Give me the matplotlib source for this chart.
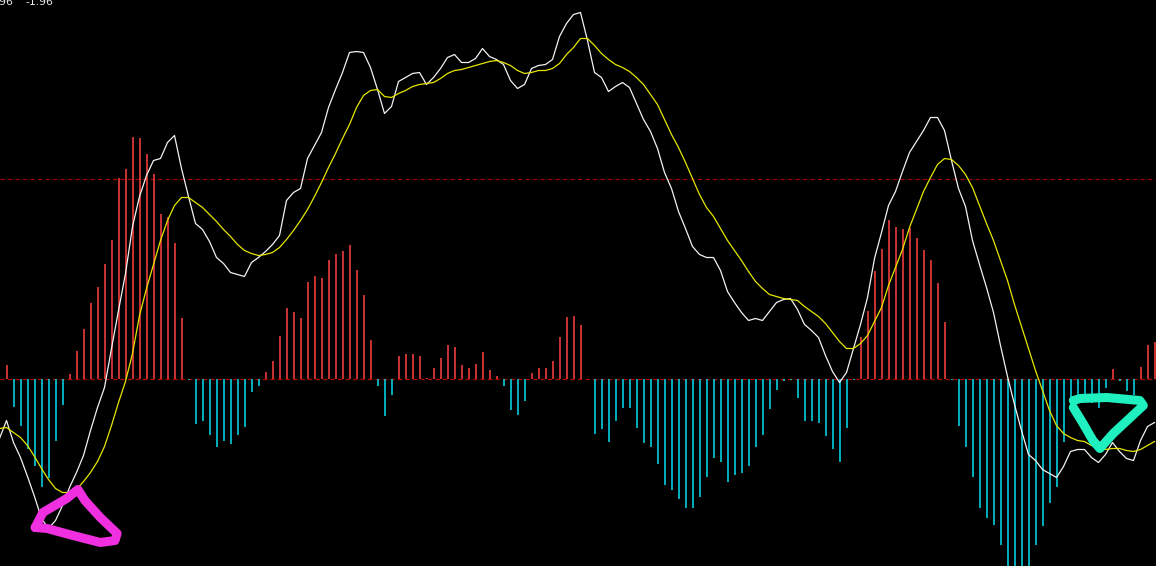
import numpy as np
import matplotlib
matplotlib.use('Agg')
import matplotlib.pyplot as plt

# MACD values, one per bar
macd = [0.14, -0.28, -0.47, -0.70, -0.87, -1.08, -0.99, -0.62, -0.26, 0.05,
        0.28, 0.50, 0.76, 0.92, 1.15, 1.39, 2.01, 2.10, 2.42, 2.41,
        2.24, 2.05, 1.65, 1.62, 1.36, 0.61, -0.01, -0.45, -0.42, -0.56,
        -0.68, -0.62, -0.65, -0.56, -0.48, -0.13, -0.07, 0.07, 0.18, 0.43,
        0.71, 0.67, 0.61, 0.97, 1.03, 1.01, 1.19, 1.25, 1.28, 1.34,
        1.09, 0.84, 0.39, -0.07, -0.37, -0.16, 0.23, 0.25, 0.25, 0.23,
        0.01, 0.11, 0.21, 0.34, 0.32, 0.14, 0.11, 0.15, 0.27, 0.09,
        0.03, -0.07, -0.31, -0.36, -0.22, 0.06, 0.11, 0.11, 0.18, 0.42,
        0.62, 0.63, 0.54, 0.00, -0.55, -0.50, -0.63, -0.42, -0.29, -0.29,
        -0.49, -0.64, -0.68, -0.85, -1.06, -1.11, -1.20, -1.29, -1.29, -1.18,
        -0.98, -0.79, -0.83, -1.03, -0.96, -0.94, -0.87, -0.68, -0.56, -0.30,
        -0.11, -0.02, -0.01, -0.19, -0.42, -0.42, -0.44, -0.57, -0.70, -0.83,
        -0.49, -0.01, 0.42, 0.68, 1.08, 1.30, 1.59, 1.52, 1.50, 1.51,
        1.41, 1.29, 1.19, 0.96, 0.57, -0.01, -0.47, -0.68, -0.98, -1.29,
        -1.39, -1.46, -1.66, -1.92, -2.05, -2.05, -1.92, -1.66, -1.47, -1.24,
        -1.08, -0.63, -0.28, -0.22, -0.20, -0.24, -0.29, -0.09, 0.10, -0.02,
        -0.12, -0.16, 0.12, 0.34, 0.37]

# DIF (white) and DEA (yellow), starting one bar before the first histogram bar
dif = [-0.60, -0.42, -0.64, -0.79, -0.98, -1.18, -1.40, -1.50, -1.42, -1.27,
       -1.09, -0.94, -0.77, -0.52, -0.29, -0.09, 0.30, 0.68, 1.05, 1.52,
       1.82, 2.03, 2.18, 2.20, 2.36, 2.43, 2.10, 1.82, 1.55, 1.49,
       1.37, 1.21, 1.15, 1.06, 1.04, 1.02, 1.16, 1.21, 1.27, 1.34,
       1.43, 1.78, 1.86, 1.90, 2.20, 2.33, 2.46, 2.71, 2.89, 3.06,
       3.26, 3.27, 3.26, 3.11, 2.89, 2.65, 2.72, 2.97, 3.01, 3.05,
       3.06, 2.94, 3.01, 3.10, 3.21, 3.24, 3.16, 3.16, 3.20, 3.30,
       3.22, 3.19, 3.14, 2.98, 2.90, 2.94, 3.10, 3.13, 3.14, 3.19,
       3.42, 3.55, 3.64, 3.66, 3.38, 3.06, 3.01, 2.87, 2.92, 2.96,
       2.91, 2.75, 2.59, 2.47, 2.30, 2.06, 1.90, 1.67, 1.50, 1.32,
       1.24, 1.21, 1.21, 1.08, 0.87, 0.76, 0.66, 0.58, 0.60, 0.58,
       0.67, 0.76, 0.79, 0.80, 0.69, 0.54, 0.48, 0.41, 0.23, 0.07,
       -0.04, 0.06, 0.30, 0.54, 0.81, 1.20, 1.46, 1.73, 1.87, 2.07,
       2.26, 2.37, 2.48, 2.61, 2.61, 2.48, 2.18, 1.90, 1.72, 1.38,
       1.14, 0.91, 0.66, 0.33, 0.02, -0.26, -0.52, -0.76, -0.82, -0.91,
       -0.95, -0.99, -0.88, -0.73, -0.71, -0.71, -0.79, -0.84, -0.76, -0.64,
       -0.73, -0.80, -0.82, -0.62, -0.48, -0.44]

dea = [-0.50, -0.49, -0.54, -0.59, -0.67, -0.78, -0.90, -1.01, -1.10, -1.14,
       -1.14, -1.11, -1.03, -0.94, -0.83, -0.68, -0.47, -0.24, -0.03, 0.25,
       0.63, 0.90, 1.14, 1.38, 1.58, 1.73, 1.81, 1.81, 1.76, 1.71,
       1.64, 1.57, 1.49, 1.42, 1.34, 1.28, 1.25, 1.23, 1.24, 1.26,
       1.31, 1.39, 1.48, 1.58, 1.69, 1.82, 1.96, 2.11, 2.25, 2.40,
       2.54, 2.71, 2.83, 2.88, 2.89, 2.82, 2.81, 2.85, 2.88, 2.92,
       2.94, 2.95, 2.96, 3.00, 3.05, 3.08, 3.09, 3.11, 3.13, 3.15,
       3.17, 3.18, 3.16, 3.13, 3.08, 3.05, 3.06, 3.08, 3.08, 3.10,
       3.15, 3.24, 3.31, 3.40, 3.40, 3.33, 3.25, 3.19, 3.14, 3.11,
       3.07, 3.01, 2.94, 2.84, 2.74, 2.59, 2.44, 2.31, 2.16, 2.00,
       1.84, 1.71, 1.62, 1.50, 1.38, 1.28, 1.18, 1.07, 0.97, 0.90,
       0.84, 0.82, 0.80, 0.79, 0.78, 0.72, 0.67, 0.62, 0.55, 0.46,
       0.37, 0.30, 0.30, 0.35, 0.43, 0.57, 0.71, 0.93, 1.11, 1.29,
       1.51, 1.69, 1.87, 2.01, 2.14, 2.20, 2.19, 2.13, 2.04, 1.91,
       1.73, 1.55, 1.38, 1.18, 0.98, 0.74, 0.52, 0.30, 0.08, -0.12,
       -0.32, -0.47, -0.55, -0.59, -0.62, -0.63, -0.67, -0.69, -0.71, -0.70,
       -0.70, -0.72, -0.73, -0.71, -0.67, -0.63]

level = 2.0
label_left = '-1.96'
label_right = '-1.96'

# hand-drawn marker strokes (bar index, value)
pink_x = [4.1, 5.2, 8.6, 10.2, 11.2, 13.4, 15.8, 15.5, 13.4, 9.5, 5.8, 4.1]
pink_y = [-1.49, -1.34, -1.20, -1.11, -1.22, -1.39, -1.55, -1.62, -1.64, -1.57, -1.50, -1.49]
green_x = [152.4, 153.4, 157.2, 161.9, 162.4, 160.1, 158.1, 156.2, 155.2, 153.8, 152.4]
green_y = [-0.22, -0.20, -0.19, -0.22, -0.27, -0.42, -0.55, -0.70, -0.62, -0.45, -0.29]

x_bar = np.arange(len(macd))
x_line = np.arange(len(dif)) - 1
macd = np.array(macd)

fig = plt.figure(figsize=(11.56, 5.66), dpi=100, facecolor='black')
ax = fig.add_axes([0, 0, 1, 1], facecolor='black')

ax.axhline(0, color='#b00000', lw=0.9, ls=(0, (3.4, 2.6)), zorder=1)
ax.axhline(level, color='#a00000', lw=0.9, ls=(0, (3.4, 2.6)), zorder=1)

pos = macd >= 0
ax.vlines(x_bar[pos], 0, macd[pos], colors='#ff4040', lw=1.1, zorder=2)
ax.vlines(x_bar[~pos], 0, macd[~pos], colors='#00e0f0', lw=1.1, zorder=2)

ax.plot(x_line, dif, color='#f2f2f2', lw=0.9, zorder=3)
ax.plot(x_line, dea, color='#e6e600', lw=0.9, zorder=3)

ax.plot(pink_x, pink_y, color='#f030e0', lw=6.5, solid_capstyle='round',
        solid_joinstyle='round', zorder=4)
ax.plot(green_x, green_y, color='#20f0c0', lw=6.5, solid_capstyle='round',
        solid_joinstyle='round', zorder=4)

ax.set_xlim(-6.5 / 7, (1156 - 6.5) / 7)
ax.set_ylim(-1.875, 3.785)
ax.axis('off')

fig.text(13.5 / 1156, 1 - 5 / 566, label_left, ha='right', va='baseline',
         color='#e8e8e8', fontsize=7.8)
fig.text(25 / 1156, 1 - 5 / 566, label_right, ha='left', va='baseline',
         color='#e8e8e8', fontsize=7.8)

fig.savefig('out.png', dpi=100, facecolor='black')
